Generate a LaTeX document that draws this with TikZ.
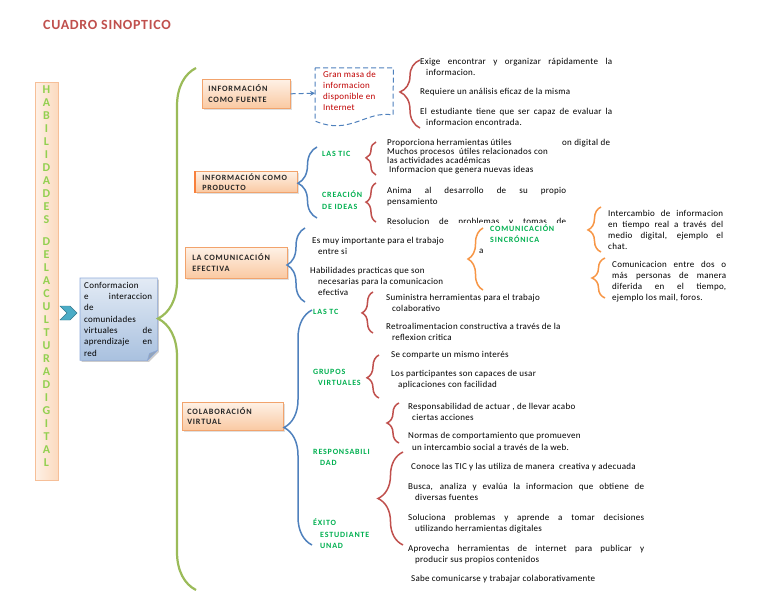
\documentclass[tikz,border=0pt]{standalone}
\usepackage{fontspec}
\setmainfont{Carlito}[LetterSpace=3]
\newfontfamily\capsf[LetterSpace=10]{Carlito}
\newfontfamily\titlef[LetterSpace=5]{Carlito}
\usetikzlibrary{decorations.pathreplacing,shapes.symbols,shapes.arrows,shadows,arrows.meta,calc}
\definecolor{cred}{HTML}{C0504D}
\definecolor{cblue}{HTML}{4F81BD}
\definecolor{corange}{HTML}{F79646}
\definecolor{cgreen}{HTML}{9BBB59}
\definecolor{lblgreen}{HTML}{00B050}
\definecolor{lettgreen}{HTML}{92D050}
\definecolor{darkred}{HTML}{C00000}
\definecolor{boxtop}{HTML}{FEF1E6}
\definecolor{boxbot}{HTML}{FAC9A2}
\definecolor{boxdraw}{HTML}{F2A36C}
\definecolor{cbtop}{HTML}{E3EBF5}
\definecolor{cbbot}{HTML}{A9C1DF}
\definecolor{cbdraw}{HTML}{8EAADB}
\definecolor{chevc}{HTML}{4BACC6}
\begin{document}
\begin{tikzpicture}[x=1pt,y=-1pt,
  txt/.style={inner sep=0pt, anchor=north west, font=\fontsize{9}{11}\selectfont, text=black, align=left},
  jtxt/.style={txt, align=justify, text width=#1},
  lbl/.style={inner sep=0pt, anchor=north west, font=\capsf\bfseries\fontsize{8}{11.5}\selectfont, text=lblgreen, align=left},
  obox/.style={draw=boxdraw, line width=0.6pt, top color=boxtop, bottom color=boxbot,
     drop shadow={opacity=0.25, shadow xshift=1.5pt, shadow yshift=-1.5pt},
     anchor=north west, inner ysep=0pt, align=left, text=black!85,
     font=\capsf\bfseries\fontsize{8.2}{10.5}\selectfont},
  brc/.style={decorate, line width=1.5pt},
  lett/.style={inner sep=0pt, font=\bfseries\fontsize{12}{12}\selectfont, text=lettgreen}
]
\useasboundingbox (0,0) rectangle (768,594);
\fill[white] (0,0) rectangle (768,594);

% title
\node[anchor=west, inner sep=0pt, font=\titlef\bfseries\fontsize{14}{16}\selectfont, text=cred] (title) at (43,25) {CUADRO SINOPTICO};

% left bar
\node[draw=boxdraw!70, line width=0.6pt, left color=boxtop, right color=boxbot!70, minimum width=23, minimum height=398, anchor=north west, inner sep=0pt] (bar) at (35,82) {};
\foreach \c [count=\i] in {H,A,B,I,L,I,D,A,D,E,S}
  \node[lett] (la\i) at (46.5,{90+(\i-1)*13}) {\c};
\foreach \c [count=\i] in {D,E,L,A,C,U,L,T,U,R,A,D,I,G,I,T,A,L}
  \node[lett] (lb\i) at (46.5,{242+(\i-1)*13}) {\c};

% chevron
\node[signal, signal to=east, signal from=west, fill=chevc, draw=chevc!70!black, line width=0.4pt, minimum width=17, minimum height=14, inner sep=0pt] (chv) at (68.5,313) {};

% center box with folded corner
\node[minimum width=77, minimum height=82, anchor=north west, inner sep=0pt] (cb) at (80,278) {};
\fill[black, opacity=0.2] ([xshift=1.5pt,yshift=-1.5pt]cb.north west) -- ([xshift=1.5pt,yshift=-1.5pt]cb.north east) -- ([xshift=1.5pt,yshift=-1.5pt]$(cb.south east)+(0,-10)$) -- ([xshift=1.5pt,yshift=-1.5pt]$(cb.south east)+(-10,0)$) -- ([xshift=1.5pt,yshift=-1.5pt]cb.south west) -- cycle;
\shade[top color=cbtop, bottom color=cbbot, draw=cbdraw, line width=0.6pt] (cb.north west) -- (cb.north east) -- ($(cb.south east)+(0,-10)$) -- ($(cb.south east)+(-10,0)$) -- (cb.south west) -- cycle;
\fill[cbbot!80!black!90, draw=cbdraw] ($(cb.south east)+(0,-10)$) -- ($(cb.south east)+(-8,-7)$) -- ($(cb.south east)+(-10,0)$) -- cycle;
\node[jtxt=68, font=\fontsize{9}{11.3}\selectfont] (cbt) at (84,282) {Conformacion\linebreak e interaccion\linebreak de\linebreak comunidades\linebreak virtuales de\linebreak aprendizaje en\linebreak red};

% big green brace
\coordinate (gb) at (196,590);
\coordinate (gt) at (196,68);
\draw[brc, line width=2.2pt, draw=cgreen, decoration={brace, amplitude=38pt, aspect=0.52}] (gb) -- (gt);

% ---- section 1
\node[obox, minimum width=88, minimum height=29, inner xsep=6pt, text width=76] (b1) at (202,79) {INFORMACIÓN\\COMO FUENTE};
\node[minimum width=78, minimum height=50, anchor=north west, inner sep=0pt] (gm) at (315,68) {};
\draw[cblue, line width=1pt, dash pattern=on 5pt off 3pt] (gm.north west) -- (gm.north east) -- (393,115) .. controls (366,110) and (350,136) .. (315,121) -- cycle;
\node[txt, text=darkred] (gmt) at (323,71) {Gran masa de\\informacion\\disponible en\\Internet};
\draw[cblue, line width=1pt, dash pattern=on 5pt off 3pt, -{Stealth[length=5pt,width=5pt]}] (b1.east) -- (gm.west);

\coordinate (rb1b) at (420,128); \coordinate (rb1t) at (420,60);
\draw[brc, draw=cred, decoration={brace, amplitude=20pt, aspect=0.53}] (rb1b) -- (rb1t);
\node[jtxt=192] (t1) at (420,58) {Exige encontrar y organizar rápidamente la\linebreak\hspace*{6pt}informacion.};
\node[txt] (t2) at (420,88) {Requiere un análisis eficaz de la misma};
\node[jtxt=192] (t3) at (420,108) {El estudiante tiene que ser capaz de evaluar la\linebreak\hspace*{6pt}informacion encontrada.};

% ---- section 2
\node[obox, minimum width=102, minimum height=21, inner xsep=7pt, text width=88, font=\capsf\bfseries\fontsize{8}{10}\selectfont] (b2) at (195,171) {INFORMACIÓN COMO\\PRODUCTO};
\draw[line width=1.6pt, draw=corange!85!red] (b2.north west) -- (b2.south west);
\coordinate (bb2b) at (317,218); \coordinate (bb2t) at (317,147);
\draw[brc, draw=cblue, decoration={brace, amplitude=19pt, aspect=0.49}] (bb2b) -- (bb2t);
\node[lbl] (l1) at (322,151) {LAS TIC};
\node[lbl, font=\capsf\bfseries\fontsize{8}{12}\selectfont] (l2) at (322,191) {CREACIÓN\\DE IDEAS};

\coordinate (rticb) at (376,175); \coordinate (rtict) at (376,142);
\draw[brc, draw=cred, decoration={brace, amplitude=10pt, aspect=0.52}] (rticb) -- (rtict);
\node[txt, font=\fontsize{9}{9}\selectfont] (t4) at (387,139) {Proporciona herramientas útiles\\Muchos procesos\ \ útiles relacionados con\\las actividades académicas\\\hspace*{2pt}Informacion que genera nuevas ideas};
\node[txt] (t4b) at (562,139) {on digital de};
\coordinate (rcreb) at (376,222); \coordinate (rcret) at (376,183);
\draw[brc, draw=cred, decoration={brace, amplitude=10pt, aspect=0.51}] (rcreb) -- (rcret);
\node[jtxt=179] (t5) at (387,187) {Anima al desarrollo de su propio\linebreak pensamiento};
\node[jtxt=179] (t6) at (387,218) {Resolucion de problemas y tomas de\linebreak decisiones};
\fill[white] (448,222.5) rectangle (575,252);
\fill[white] (380,228.5) rectangle (448,252);

% ---- section 3
\node[obox, minimum width=102, minimum height=31, inner xsep=7pt, text width=88] (b3) at (185,247) {LA COMUNICACIÓN\\EFECTIVA};
\coordinate (bb3b) at (305,302); \coordinate (bb3t) at (305,228);
\draw[brc, draw=cblue, decoration={brace, amplitude=18pt, aspect=0.5}] (bb3b) -- (bb3t);
\node[txt] (t7) at (312,237) {Es muy importante para el trabajo\\\hspace*{6pt}entre si};
\node[txt] (t8) at (310,267) {Habilidades practicas que son\\\hspace*{8pt}necesarias para la comunicacion\\\hspace*{8pt}efectiva};
\coordinate (oab) at (483,290); \coordinate (oat) at (483,228);
\draw[brc, draw=corange, decoration={brace, amplitude=15pt, aspect=0.5}] (oab) -- (oat);
\node[txt] (ta) at (479,249) {a};
\node[lbl, font=\capsf\bfseries\fontsize{8}{11}\selectfont] (lcs) at (490,225) {COMUNICACIÓN\\SINCRÓNICA};
\coordinate (or1b) at (601,252); \coordinate (or1t) at (601,207);
\draw[brc, draw=corange, decoration={brace, amplitude=13pt, aspect=0.49}] (or1b) -- (or1t);
\node[jtxt=115] (t9) at (608,210) {Intercambio de informacion\linebreak en tiempo real a través del\linebreak medio digital, ejemplo el\linebreak chat.};
\coordinate (or2b) at (605,298); \coordinate (or2t) at (605,258);
\draw[brc, draw=corange, decoration={brace, amplitude=13pt, aspect=0.5}] (or2b) -- (or2t);
\node[jtxt=114] (t10) at (612,261) {Comunicacion entre dos o\linebreak más personas de manera\linebreak diferida en el tiempo,\linebreak ejemplo los mail, foros.};

% ---- section 4
\node[obox, minimum width=101, minimum height=28, inner xsep=5pt, text width=91] (b4) at (182,402) {COLABORACIÓN\\VIRTUAL};
\coordinate (bb4b) at (312,545); \coordinate (bb4t) at (312,310);
\draw[brc, draw=cblue, decoration={brace, amplitude=28pt, aspect=0.5}] (bb4b) -- (bb4t);
\node[lbl] (l3) at (313,309) {LAS TC};
\node[lbl] (l4) at (313,369) {GRUPOS\\\hspace*{5pt}VIRTUALES};
\node[lbl] (l5) at (313,449) {RESPONSABILI\\\hspace*{7pt}DAD};
\node[lbl] (l6) at (313,519) {ÉXITO\\\hspace*{7pt}ESTUDIANTE\\\hspace*{7pt}UNAD};

\coordinate (rtcb) at (373,333); \coordinate (rtct) at (373,292);
\draw[brc, draw=cred, decoration={brace, amplitude=11pt, aspect=0.49}] (rtcb) -- (rtct);
\node[txt] (t11) at (386,294) {Suministra herramientas para el trabajo\\\hspace*{6pt}colaborativo};
\node[txt] (t12) at (386,323) {Retroalimentacion constructiva a través de la\\\hspace*{6pt}reflexion critica};

\coordinate (rgrb) at (379,398); \coordinate (rgrt) at (379,355);
\draw[brc, draw=cred, decoration={brace, amplitude=12pt, aspect=0.47}] (rgrb) -- (rgrt);
\node[txt] (t13) at (391,351) {Se comparte un mismo interés};
\node[txt] (t14) at (391,370) {Los participantes son capaces de usar\\\hspace*{7pt}aplicaciones con facilidad};

\coordinate (rrsb) at (399,443); \coordinate (rrst) at (399,403);
\draw[brc, draw=cred, decoration={brace, amplitude=12pt, aspect=0.5}] (rrsb) -- (rrst);
\node[txt] (t15) at (408,403) {Responsabilidad de actuar , de llevar acabo\\\hspace*{4pt}ciertas acciones};
\node[txt, font=\fontsize{9}{12.5}\selectfont] (t16) at (408,432) {Normas de comportamiento que promueven\\\hspace*{4pt}un intercambio social a través de la web.};

\coordinate (rexb) at (403,545); \coordinate (rext) at (403,452);
\draw[brc, draw=cred, decoration={brace, amplitude=25pt, aspect=0.5}] (rexb) -- (rext);
\node[txt] (t17) at (411,463) {Conoce las TIC y las utiliza de manera\ \ creativa y adecuada};
\node[jtxt=236] (t18) at (408,483) {Busca, analiza y evalúa la informacion que obtiene de\linebreak\hspace*{7pt}diversas fuentes};
\node[jtxt=236] (t19) at (408,514) {Soluciona problemas y aprende a tomar decisiones\linebreak\hspace*{7pt}utilizando herramientas digitales};
\node[jtxt=236] (t20) at (408,545) {Aprovecha herramientas de internet para publicar y\linebreak\hspace*{7pt}producir sus propios contenidos};
\node[txt] (t21) at (411,575) {Sabe comunicarse y trabajar colaborativamente};
\end{tikzpicture}
\end{document}
